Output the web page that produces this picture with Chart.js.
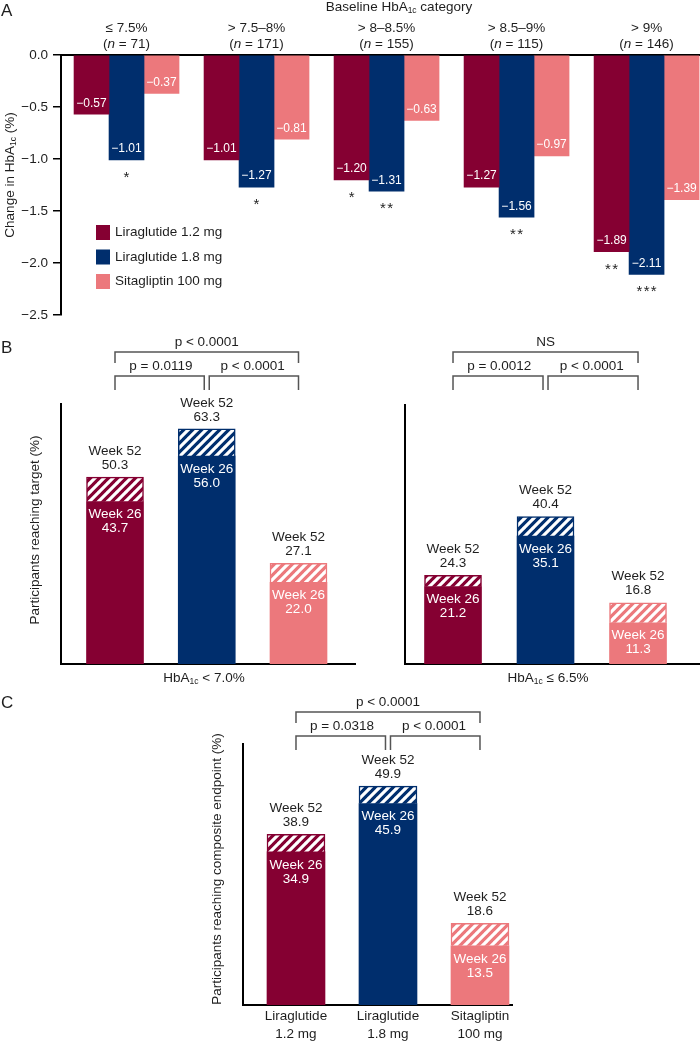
<!DOCTYPE html>
<html lang="en">
<head>
<meta charset="UTF-8">
<title>HbA1c response by treatment</title>
<script src="https://cdn.jsdelivr.net/npm/chart.js@4"></script>
<style>
  html, body { margin: 0; padding: 0; background: #fff; }
  body { width: 700px; height: 1041px; position: relative; overflow: hidden; }
  canvas { position: absolute; }
</style>
</head>
<body>
<canvas id="chartA" width="700" height="330" style="left:0;top:0"></canvas>
<canvas id="chartB1" width="380" height="360" style="left:0;top:330px"></canvas>
<canvas id="chartB2" width="320" height="360" style="left:380px;top:330px"></canvas>
<canvas id="chartC" width="700" height="351" style="left:0;top:690px"></canvas>
<script>
// Panel A - change in HbA1c by baseline category
const categories = ['\u2264 7.5%', '> 7.5\u20138%', '> 8\u20138.5%', '> 8.5\u20139%', '> 9%'];
const groupSizes = [71, 171, 155, 115, 146];
const lira12Change = [-0.57, -1.01, -1.20, -1.27, -1.89];
const lira18Change = [-1.01, -1.27, -1.31, -1.56, -2.11];
const sitaChange = [-0.37, -0.81, -0.63, -0.97, -1.39];
const lira12Stars = ['', '', '*', '', '**'];
const lira18Stars = ['*', '*', '**', '**', '***'];
const sitaStars = ['', '', '', '', ''];

// Panels B and C - participants reaching target (%)
const treatments = ['Liraglutide 1.2 mg', 'Liraglutide 1.8 mg', 'Sitagliptin 100 mg'];
const treatmentTicks = [['Liraglutide', '1.2 mg'], ['Liraglutide', '1.8 mg'], ['Sitagliptin', '100 mg']];
const below70Week26 = [43.7, 56.0, 22.0];
const below70Week52 = [50.3, 63.3, 27.1];
const below65Week26 = [21.2, 35.1, 11.3];
const below65Week52 = [24.3, 40.4, 16.8];
const compositeWeek26 = [34.9, 45.9, 13.5];
const compositeWeek52 = [38.9, 49.9, 18.6];
// p values: [1.2 vs 1.8, 1.8 vs sita, 1.2 vs sita]
const below70P = ['p = 0.0119', 'p < 0.0001', 'p < 0.0001'];
const below65P = ['p = 0.0012', 'p < 0.0001', 'NS'];
const compositeP = ['p = 0.0318', 'p < 0.0001', 'p < 0.0001'];

const colours = ['#850032', '#002E6D', '#EC787C'];
const FONT = "'Liberation Sans', Arial, Helvetica, sans-serif";
const TEXT = '#1e1e1e';

Chart.defaults.font.family = FONT;
Chart.defaults.font.size = 13.5;
Chart.defaults.color = TEXT;
Chart.defaults.animation = false;
Chart.defaults.responsive = false;
Chart.defaults.plugins.legend.display = false;
Chart.defaults.plugins.tooltip.enabled = false;

function font(size, style) {
    return (style ? style + ' ' : '') + size + 'px ' + FONT;
}

// draws text made of several runs (italic n, subscript 1c)
function richText(ctx, parts, x, y, align) {
    let width = 0;
    parts.forEach(p => { ctx.font = p.font; width += ctx.measureText(p.text).width; });
    let cx = align === 'left' ? x : x - width / 2;
    ctx.textAlign = 'left';
    ctx.textBaseline = 'middle';
    parts.forEach(p => {
        ctx.font = p.font;
        ctx.fillText(p.text, cx, y + (p.dy || 0));
        cx += ctx.measureText(p.text).width;
    });
}

function hba(before, after) {
    return [
        { text: before + 'HbA', font: font(13.5) },
        { text: '1c', font: font(8.5), dy: 3.5 },
        { text: after, font: font(13.5) }
    ];
}

function verticalTitle(ctx, parts, x, y) {
    ctx.save();
    ctx.translate(x, y);
    ctx.rotate(-Math.PI / 2);
    ctx.fillStyle = TEXT;
    richText(ctx, parts, 0, 0, 'center');
    ctx.restore();
}

function letter(ctx, t, x, y) {
    ctx.fillStyle = TEXT;
    ctx.font = font(17);
    ctx.textAlign = 'left';
    ctx.textBaseline = 'middle';
    ctx.fillText(t, x, y);
}

function hatch(ctx, colour) {
    const s = 9;
    const c = document.createElement('canvas');
    c.width = s; c.height = s;
    const g = c.getContext('2d');
    g.fillStyle = colour;
    g.fillRect(0, 0, s, s);
    g.strokeStyle = '#fff';
    g.lineWidth = 3.2;
    g.beginPath();
    [0, s, 2 * s].forEach(k => { g.moveTo(k - s - 1, s + 1); g.lineTo(k + 1, -1); });
    g.stroke();
    return ctx.createPattern(c, 'repeat');
}

// ---------- Panel A ----------
const changeSeries = [lira12Change, lira18Change, sitaChange];
const starSeries = [lira12Stars, lira18Stars, sitaStars];

const panelA = {
    id: 'panelA',
    afterDatasetsDraw(chart) {
        const ctx = chart.ctx;
        const x = chart.scales.x;
        ctx.save();
        letter(ctx, 'A', 1, 11);
        ctx.fillStyle = TEXT;
        richText(ctx, hba('Baseline ', ' category'), 399, 7, 'center');
        categories.forEach((c, i) => {
            const px = x.getPixelForValue(i);
            ctx.font = font(13.5);
            ctx.textAlign = 'center';
            ctx.textBaseline = 'middle';
            ctx.fillText(c, px, 28);
            richText(ctx, [
                { text: '(', font: font(13.5) },
                { text: 'n', font: font(13.5, 'italic') },
                { text: ' = ' + groupSizes[i] + ')', font: font(13.5) }
            ], px, 44, 'center');
        });
        verticalTitle(ctx, hba('Change in ', ' (%)'), 10, 175);

        chart.data.datasets.forEach((ds, d) => {
            chart.getDatasetMeta(d).data.forEach((bar, i) => {
                const v = changeSeries[d][i];
                ctx.fillStyle = '#fff';
                ctx.font = font(12);
                ctx.textAlign = 'center';
                ctx.textBaseline = 'middle';
                ctx.fillText('\u2212' + Math.abs(v).toFixed(2), bar.x, bar.y - 11);
                const s = starSeries[d][i];
                if (s) {
                    ctx.fillStyle = TEXT;
                    ctx.font = font(15);
                    ctx.textBaseline = 'alphabetic';
                    ctx.fillText(s.split('').join('\u200A'), bar.x, bar.y + 22);
                }
            });
            // legend
            const cy = 232.5 + d * 24.5;
            ctx.fillStyle = ds.backgroundColor;
            ctx.fillRect(96, cy - 7.5, 14, 15);
            ctx.fillStyle = TEXT;
            ctx.font = font(13.5);
            ctx.textAlign = 'left';
            ctx.textBaseline = 'middle';
            ctx.fillText(ds.label, 115, cy);
        });
        ctx.restore();
    }
};

new Chart(document.getElementById('chartA'), {
    type: 'bar',
    data: {
        datasets: changeSeries.map((series, d) => ({
            label: treatments[d],
            data: series.map((v, i) => ({ x: i, y: v })),
            backgroundColor: colours[d],
            barThickness: 35
        }))
    },
    options: {
        devicePixelRatio: 1,
        layout: { padding: { top: 55, right: 0, bottom: 15, left: 0 } },
        scales: {
            x: {
                type: 'linear', position: 'top', bounds: 'data', offset: false,
                min: -0.504, max: 4.411,
                ticks: { display: false },
                grid: { display: false, drawTicks: false, offset: false },
                border: { display: true, color: '#000', width: 2 },
                afterFit: s => { s.height = 0; }
            },
            y: {
                min: -2.5, max: 0,
                ticks: {
                    stepSize: 0.5, padding: 5, color: TEXT,
                    callback: v => (v < 0 ? '\u2212' : '') + Math.abs(v).toFixed(1)
                },
                grid: { drawOnChartArea: false, tickLength: 8, color: '#000', lineWidth: 1.5 },
                border: { display: true, color: '#000', width: 2 },
                afterFit: s => { s.width = 61; }
            }
        }
    },
    plugins: [panelA]
});

// ---------- Panels B and C ----------
function barLabels(week26, week52, pValues) {
    return {
        id: 'barLabels',
        afterDatasetsDraw(chart) {
            const ctx = chart.ctx;
            const solid = chart.getDatasetMeta(0).data;
            const striped = chart.getDatasetMeta(1).data;
            ctx.save();
            ctx.textAlign = 'center';
            ctx.textBaseline = 'middle';
            ctx.font = font(13.5);
            striped.forEach((bar, i) => {
                ctx.fillStyle = TEXT;
                ctx.fillText('Week 52', bar.x, bar.y - 26);
                ctx.fillText(week52[i].toFixed(1), bar.x, bar.y - 12);
                ctx.fillStyle = '#fff';
                ctx.fillText('Week 26', solid[i].x, solid[i].y + 13);
                ctx.fillText(week26[i].toFixed(1), solid[i].x, solid[i].y + 27);
            });

            // significance brackets
            const x = chart.scales.x;
            const x0 = x.getPixelForValue(0), x1 = x.getPixelForValue(1), x2 = x.getPixelForValue(2);
            ctx.strokeStyle = '#555';
            ctx.lineWidth = 1.5;
            const bracket = (a, b, top, foot) => {
                ctx.beginPath();
                ctx.moveTo(a, foot); ctx.lineTo(a, top); ctx.lineTo(b, top); ctx.lineTo(b, foot);
                ctx.stroke();
            };
            bracket(x0, x2, 22, 33);
            bracket(x0, x1 - 2.5, 46, 60);
            bracket(x1 + 2.5, x2, 46, 60);
            ctx.fillStyle = TEXT;
            ctx.fillText(pValues[2], (x0 + x2) / 2, 12);
            ctx.fillText(pValues[0], (x0 + x1) / 2, 36.5);
            ctx.fillText(pValues[1], (x1 + x2) / 2, 36.5);
            ctx.restore();
        }
    };
}

function percentChart(id, week26, week52, pValues, cfg, extra) {
    const canvas = document.getElementById(id);
    const ctx = canvas.getContext('2d');
    return new Chart(ctx, {
        type: 'bar',
        data: {
            datasets: [
                {
                    label: 'Week 26',
                    data: week26.map((v, i) => ({ x: i, y: v })),
                    backgroundColor: colours,
                    grouped: false,
                    barThickness: cfg.barWidth
                },
                {
                    label: 'Week 52',
                    data: week52.map((v, i) => ({ x: i, y: [week26[i], v] })),
                    backgroundColor: colours.map(c => hatch(ctx, c)),
                    borderColor: colours,
                    borderWidth: 1.5,
                    borderSkipped: 'start',
                    grouped: false,
                    barThickness: cfg.barWidth
                }
            ]
        },
        options: {
            devicePixelRatio: 1,
            layout: { padding: cfg.padding },
            scales: {
                x: {
                    type: 'linear', bounds: 'data', offset: false,
                    min: cfg.xMin, max: cfg.xMax,
                    afterBuildTicks: s => { s.ticks = treatmentTicks.map((t, i) => ({ value: i })); },
                    ticks: {
                        display: !!cfg.showTicks, padding: 3, autoSkip: false, maxRotation: 0,
                        color: TEXT, font: { size: 13.5, lineHeight: 1.28 },
                        callback: v => treatmentTicks[v]
                    },
                    grid: { display: false, drawTicks: false, offset: false },
                    border: { display: true, color: '#000', width: 2 },
                    afterFit: s => { s.height = cfg.xHeight; }
                },
                y: {
                    min: 0, max: cfg.yMax, bounds: 'data',
                    ticks: { display: false },
                    grid: { display: false, drawTicks: false },
                    border: { display: true, color: '#000', width: 2 },
                    afterFit: s => { s.width = cfg.yWidth; }
                }
            }
        },
        plugins: [barLabels(week26, week52, pValues), extra]
    });
}

percentChart('chartB1', below70Week26, below70Week52, below70P, {
    barWidth: 57, xMin: -0.5886, xMax: 2.6158, yMax: 70, yWidth: 61, xHeight: 0,
    padding: { top: 74, right: 25, bottom: 26, left: 0 }
}, {
    id: 'b1Text',
    afterDraw(chart) {
        const ctx = chart.ctx;
        ctx.save();
        letter(ctx, 'B', 1, 18);
        verticalTitle(ctx, [{ text: 'Participants reaching target (%)', font: font(13.5) }], 35, 200);
        ctx.fillStyle = TEXT;
        richText(ctx, hba('', ' < 7.0%'), 204, 348, 'center');
        ctx.restore();
    }
});

percentChart('chartB2', below65Week26, below65Week52, below65P, {
    barWidth: 57, xMin: -0.519, xMax: 2.670, yMax: 71, yWidth: 25, xHeight: 0,
    padding: { top: 75, right: 0, bottom: 26, left: 0 }
}, {
    id: 'b2Text',
    afterDraw(chart) {
        const ctx = chart.ctx;
        ctx.save();
        ctx.fillStyle = TEXT;
        richText(ctx, hba('', ' \u2264 6.5%'), 168, 348, 'center');
        ctx.restore();
    }
});

percentChart('chartC', compositeWeek26, compositeWeek52, compositeP, {
    barWidth: 58, xMin: -0.576, xMax: 2.348, yMax: 59.5, yWidth: 243, xHeight: 36, showTicks: true,
    padding: { top: 54, right: 188, bottom: 0, left: 0 }
}, {
    id: 'cText',
    afterDraw(chart) {
        const ctx = chart.ctx;
        ctx.save();
        letter(ctx, 'C', 1, 13);
        verticalTitle(ctx, [{ text: 'Participants reaching composite endpoint (%)', font: font(13.5) }], 217, 179);
        ctx.restore();
    }
});
</script>
</body>
</html>
